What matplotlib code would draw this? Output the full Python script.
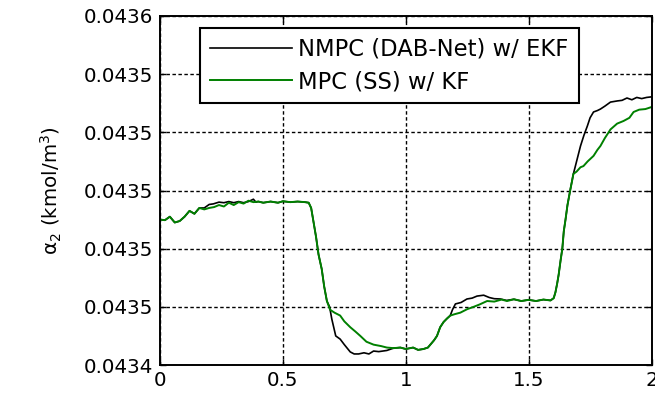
import numpy as np
import matplotlib
matplotlib.use('Agg')
import matplotlib.pyplot as plt
from matplotlib.ticker import FormatStrFormatter

plt.rcParams['font.family'] = ['DejaVu Sans']
plt.rcParams['mathtext.fontset'] = 'dejavusans'

# MPC (SS) w/ KF
t_mpc = [0, 0.02, 0.04, 0.06, 0.08, 0.10, 0.12, 0.14, 0.16, 0.18, 0.20, 0.22, 0.24, 0.26,
         0.28, 0.30, 0.32, 0.34, 0.36, 0.38, 0.40, 0.42, 0.45, 0.48, 0.50, 0.53, 0.56, 0.59,
         0.605, 0.615, 0.625, 0.635, 0.645, 0.658, 0.668, 0.679, 0.692, 0.71, 0.733, 0.75,
         0.774, 0.795, 0.815, 0.84, 0.869, 0.90, 0.923, 0.95, 0.978, 1.0, 1.03, 1.05, 1.072,
         1.09, 1.10, 1.115, 1.127, 1.14, 1.154, 1.168, 1.181, 1.20, 1.222, 1.25, 1.276, 1.30,
         1.331, 1.36, 1.39, 1.412, 1.44, 1.47, 1.50, 1.53, 1.56, 1.589, 1.602, 1.609, 1.616,
         1.622, 1.63, 1.637, 1.643, 1.65, 1.658, 1.67, 1.676, 1.682, 1.695, 1.711, 1.723,
         1.74, 1.764, 1.78, 1.792, 1.81, 1.833, 1.86, 1.886, 1.91, 1.927, 1.95, 1.975, 2.0]
y_mpc = [0.043490, 0.0434898, 0.043491, 0.043489, 0.0434895, 0.043491, 0.043493, 0.043492,
         0.043494, 0.0434935, 0.043494, 0.0434943, 0.043495, 0.0434945, 0.0434958, 0.043495,
         0.043496, 0.0434955, 0.0434965, 0.043496, 0.0434962, 0.0434958, 0.0434962, 0.0434958,
         0.0434963, 0.043496, 0.0434962, 0.043496, 0.0434958, 0.043494, 0.043489, 0.043484,
         0.043478, 0.043473, 0.043467, 0.043462, 0.043459, 0.043458, 0.043457, 0.043455,
         0.043453, 0.0434515, 0.04345, 0.043448, 0.043447, 0.0434465, 0.043446, 0.0434458,
         0.043446, 0.0434455, 0.043446, 0.0434452, 0.0434455, 0.043446, 0.043447, 0.0434485,
         0.04345, 0.043453, 0.0434548, 0.043456, 0.043457, 0.0434575, 0.043458, 0.0434592,
         0.04346, 0.0434608, 0.043462, 0.0434618, 0.0434625, 0.043462, 0.0434626, 0.043462,
         0.0434624, 0.043462, 0.0434625, 0.0434622, 0.043463, 0.043465, 0.043468, 0.043471,
         0.043476, 0.04348, 0.043486, 0.04349, 0.043495, 0.0435005, 0.043503, 0.0435057,
         0.0435065, 0.043508, 0.0435084, 0.04351, 0.0435119, 0.043514, 0.0435153, 0.043518,
         0.043521, 0.043523, 0.0435239, 0.043525, 0.043527, 0.0435278, 0.043528, 0.0435287]

# NMPC (DAB-Net) w/ EKF
t_nmpc = [0, 0.02, 0.04, 0.06, 0.08, 0.10, 0.12, 0.14, 0.16, 0.18, 0.20, 0.217, 0.24, 0.26,
          0.28, 0.30, 0.32, 0.34, 0.36, 0.38, 0.39, 0.40, 0.42, 0.45, 0.48, 0.50, 0.53, 0.56,
          0.59, 0.605, 0.615, 0.625, 0.635, 0.645, 0.658, 0.668, 0.679, 0.69, 0.699, 0.715,
          0.733, 0.75, 0.774, 0.79, 0.808, 0.83, 0.85, 0.869, 0.89, 0.923, 0.94, 0.95, 0.978,
          1.0, 1.03, 1.05, 1.072, 1.09, 1.10, 1.115, 1.127, 1.14, 1.154, 1.168, 1.181, 1.19,
          1.202, 1.225, 1.249, 1.27, 1.29, 1.317, 1.34, 1.36, 1.385, 1.41, 1.44, 1.47, 1.50,
          1.53, 1.56, 1.589, 1.602, 1.609, 1.616, 1.622, 1.63, 1.637, 1.643, 1.65, 1.658,
          1.67, 1.682, 1.695, 1.711, 1.725, 1.739, 1.75, 1.764, 1.78, 1.792, 1.81, 1.833,
          1.861, 1.88, 1.90, 1.92, 1.94, 1.96, 1.98, 2.0]
y_nmpc = [0.043490, 0.0434898, 0.043491, 0.043489, 0.0434895, 0.043491, 0.043493, 0.043492,
          0.043494, 0.043494, 0.0434952, 0.0434954, 0.043496, 0.0434958, 0.0434962, 0.0434958,
          0.0434962, 0.0434958, 0.0434962, 0.043497, 0.043496, 0.0434962, 0.0434958, 0.0434962,
          0.0434958, 0.0434963, 0.043496, 0.0434962, 0.043496, 0.0434958, 0.043494, 0.043489,
          0.043484, 0.043478, 0.043473, 0.043467, 0.043462, 0.04346, 0.0434558, 0.04345,
          0.0434489, 0.043447, 0.0434445, 0.0434438, 0.0434438, 0.0434442, 0.0434438, 0.0434448,
          0.0434446, 0.043445, 0.0434455, 0.0434458, 0.043446, 0.0434455, 0.043446, 0.0434452,
          0.0434455, 0.043446, 0.043447, 0.0434485, 0.04345, 0.043453, 0.0434548, 0.043456,
          0.043457, 0.043459, 0.043461, 0.0434615, 0.0434627, 0.043463, 0.0434637, 0.043464,
          0.0434632, 0.0434628, 0.0434627, 0.0434622, 0.0434626, 0.043462, 0.0434624, 0.043462,
          0.0434625, 0.0434622, 0.043463, 0.043465, 0.043468, 0.043471, 0.043476, 0.04348,
          0.043486, 0.04349, 0.043495, 0.0435005, 0.0435057, 0.04351, 0.0435153, 0.043519,
          0.0435222, 0.043525, 0.043527, 0.0435275, 0.043528, 0.043529, 0.0435304, 0.0435308,
          0.043531, 0.0435318, 0.0435312, 0.043532, 0.0435316, 0.043532, 0.0435322]

x_ticks = [0, 0.5, 1, 1.5, 2]
x_tick_labels = ['0', '0.5', '1', '1.5', '2']
y_ticks = [0.04344, 0.04346, 0.04348, 0.04350, 0.04352, 0.04354, 0.04356]

fig = plt.figure(figsize=(6.55, 3.99), dpi=100)
ax = fig.add_axes([0.2443, 0.0852, 0.7504, 0.8747])

ax.plot(t_nmpc, y_nmpc, color='black', lw=1.2, label='NMPC (DAB-Net) w/ EKF')
ax.plot(t_mpc, y_mpc, color='#008000', lw=1.4, label='MPC (SS) w/ KF')

ax.set_xlim(0, 2)
ax.set_ylim(0.04344, 0.04356)
ax.set_xticks(x_ticks)
ax.set_xticklabels(x_tick_labels)
ax.set_yticks(y_ticks)
ax.yaxis.set_major_formatter(FormatStrFormatter('%.4f'))
ax.tick_params(direction='in', top=True, right=True, labelsize=14.3, length=4, width=1)
ax.xaxis.set_tick_params(pad=4)
ax.yaxis.set_tick_params(pad=5)
ax.grid(True, color='black', linestyle=(0, (2.5, 1.8)), lw=1.0)
for s in ax.spines.values():
    s.set_linewidth(1.4)

ax.set_ylabel('α$_2$ (kmol/m$^3$)', fontsize=14.3, labelpad=14)

leg = ax.legend(loc='upper left', bbox_to_anchor=(0.081, 0.967), fontsize=16.3, handlelength=3.6,
                handletextpad=0.3, labelspacing=0.42, borderpad=0.45, fancybox=False,
                framealpha=1, borderaxespad=0)
leg.get_frame().set_edgecolor('black')
leg.get_frame().set_linewidth(1.5)

plt.savefig('out.png', dpi=100)
